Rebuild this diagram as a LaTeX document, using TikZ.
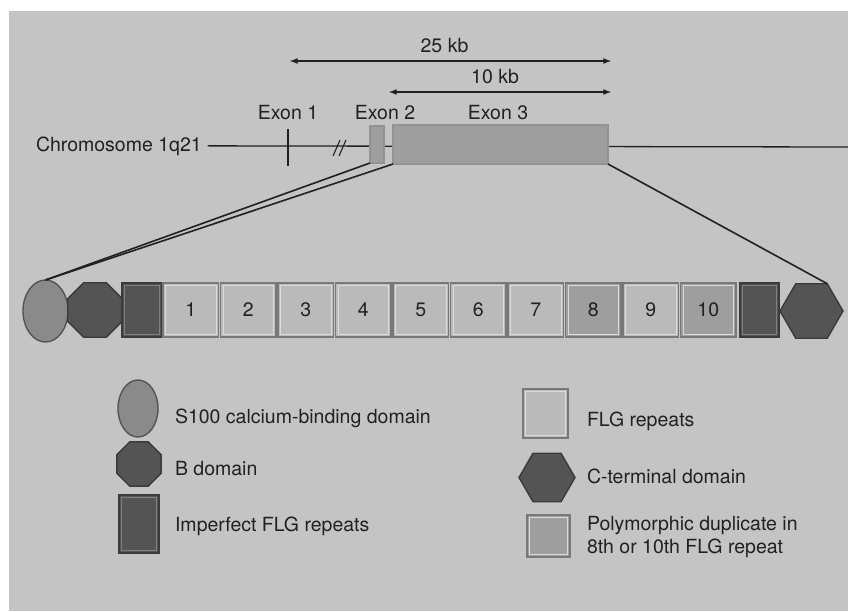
\documentclass[tikz,border=0pt]{standalone}
\usepackage{fontspec}
\setmainfont{TeX Gyre Heros}
\usepackage{tikz}
\usetikzlibrary{calc,positioning,arrows,shapes.geometric}
\definecolor{bggray}{gray}{0.77}
\definecolor{flggray}{gray}{0.73}
\definecolor{polygray}{gray}{0.62}
\definecolor{darkgray2}{gray}{0.33}
\definecolor{s100gray}{gray}{0.54}
\definecolor{edgegray}{gray}{0.47}
\definecolor{litegray}{gray}{0.86}
\definecolor{txtgray}{gray}{0.13}
\tikzset{bevel/.style={path picture={\draw[#1,line width=1pt]
  ([shift={(2.5pt,-2.5pt)}]path picture bounding box.north west) rectangle
  ([shift={(-2.5pt,2.5pt)}]path picture bounding box.south east);}}}

\begin{document}
\begin{tikzpicture}[x=1pt,y=-1pt]
    \tikzstyle{every node}=[font=\fontsize{19.5}{23}\selectfont,text=txtgray,
                            inner sep=0pt,outer sep=0pt]
    \tikzstyle{lbl}=[anchor=base west]
    \tikzstyle{rep}=[draw=edgegray,line width=1.4pt,fill=flggray,
                     minimum width=55.5pt,minimum height=54pt,bevel=litegray]
    \tikzstyle{imp}=[draw=darkgray2!70!black,line width=1.4pt,fill=darkgray2,
                     minimum width=40pt,minimum height=54pt,bevel=gray]
    \tikzstyle{s100}=[ellipse,draw=darkgray2,line width=1.4pt,fill=s100gray]
    \tikzstyle{bdom}=[regular polygon,regular polygon sides=8,draw=darkgray2!70!black,
                      line width=1.4pt,fill=darkgray2]
    \tikzstyle{cterm}=[regular polygon,regular polygon sides=6,draw=darkgray2!70!black,
                       line width=1.4pt,fill=darkgray2]
    \tikzstyle{exon}=[draw=edgegray!80,line width=1.4pt,fill=polygray]
    \tikzstyle{arr}=[latex-latex,line width=1.6pt,draw=txtgray]
    \tikzstyle{link}=[line width=1.6pt,draw=txtgray]

    % panel
    \useasboundingbox (0,0) rectangle (848,611);
    \fill[bggray] (9,11) rectangle (848,611);

    % sizes
    \node (k25) [anchor=base] at (444.5,52) {25 kb};
    \coordinate (k25a) at (290,61);
    \coordinate (k25b) at (611,61);
    \draw[arr] (k25a) -- (k25b);
    \node (k10) [anchor=base] at (495,83) {10 kb};
    \coordinate (k10a) at (389,92);
    \coordinate (k10b) at (611,92);
    \draw[arr] (k10a) -- (k10b);

    % the gene on the chromosome
    \node (chr) [lbl] at (36,151) {Chromosome 1q21};
    \coordinate (chrend) at (848,147);
    \draw[line width=1.3pt,txtgray] ($(chr.east)+(6,0)$ |- chrend) -- (chrend);
    \draw[line width=1.3pt,txtgray] (288,129) -- (288,166);
    \draw[line width=1.1pt,txtgray] (333,156) -- (340,140) (339,156) -- (346,140);
    \node (e2) [exon,minimum width=14pt,minimum height=37pt] at (377,144.5) {};
    \node (e3) [exon,minimum width=215pt,minimum height=39pt] at (500.5,144.5) {};
    \node (ex1) [anchor=base] at (288,119) {Exon 1};
    \node (ex2) [anchor=base] at (385,119) {Exon 2};
    \node (ex3) [anchor=base] at (498,119) {Exon 3};

    % the protein
    \node (s100) [s100,minimum width=45pt,minimum height=62pt] at (45.5,311) {};
    \node (bdom) [bdom,minimum size=59pt] at (95,310) {};
    \node (imp1) [imp] at (142,310) {};
    \foreach \i/\c in {1/flggray,2/flggray,3/flggray,4/flggray,5/flggray,
                       6/flggray,7/flggray,8/polygray,9/flggray,10/polygray}
        \node (r\i) [rep,fill=\c] at ({190.75+(\i-1)*57.5},310) {\i};
    \node (imp2) [imp,minimum width=39pt] at (759.5,310) {};
    \node (cterm) [cterm,minimum size=63pt] at (811.5,311) {};

    % zoom lines
    \draw[link] (e2.south west) -- (s100.north);
    \draw[link] (e3.south west) -- (s100.north);
    \draw[link] (e3.south east) -- (cterm.60);

    % legend
    \node (ls100) [s100,minimum width=40pt,minimum height=57pt] at (138,408.5) {};
    \node (lbdom) [bdom,minimum size=48pt] at (139,464) {};
    \node (limp) [imp,minimum width=40pt,minimum height=58pt] at (139,524) {};
    \node (ls100t) [lbl] at (175,423) {S100 calcium-binding domain};
    \node (lbdomt) [lbl] at (175,475) {B domain};
    \node (limpt) [lbl] at (175,531) {Imperfect FLG repeats};

    \node (lrep) [rep,minimum width=45pt,minimum height=49pt] at (545.5,413.5) {};
    \node (lcterm) [cterm,minimum size=56pt] at (547,477.5) {};
    \node (lpoly) [rep,fill=polygray,minimum width=43pt,minimum height=42pt] at (548.5,536) {};
    \node (lrept) [lbl] at (587,426) {FLG repeats};
    \node (lctermt) [lbl] at (587,483) {C-terminal domain};
    \node (lpolyt) [anchor=north west,align=left] at (587,516)
        {Polymorphic duplicate in\\8th or 10th FLG repeat};
\end{tikzpicture}
\end{document}
